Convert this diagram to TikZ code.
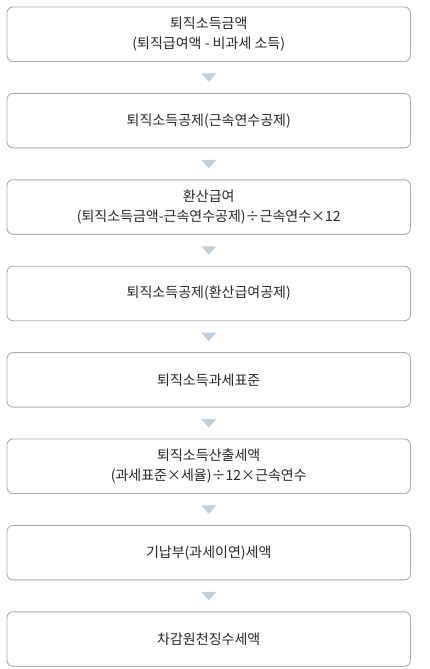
\documentclass[tikz,border=0pt]{standalone}
\usepackage{fontspec}
\setmainfont{Noto Sans CJK KR}
\usepackage{tikz}
\usetikzlibrary{positioning, calc}
\definecolor{marco}{RGB}{172, 172, 172}
\definecolor{letra}{RGB}{40, 40, 40}
\definecolor{flecha}{RGB}{192, 207, 219}
\tikzset{
    paso/.style={draw=marco, rounded corners=6pt, fill=white, text=letra, line width=0.9pt,
                 minimum width=403.5pt, minimum height=54.5pt, align=center,
                 font=\fontsize{14}{20}\selectfont, inner sep=0pt},
    flechita/.style={fill=flecha, draw=none},
}

\begin{document}
\begin{tikzpicture}[node distance=31pt]
    \useasboundingbox (0,0) rectangle (430pt,-669pt);

    \node [paso] (p1) at (208.75pt,-34.25pt) {퇴직소득금액\\(퇴직급여액 - 비과세 소득)};
    \node [paso, below=of p1] (p2) {퇴직소득공제(근속연수공제)};
    \node [paso, below=of p2] (p3) {환산급여\\(퇴직소득금액-근속연수공제)÷근속연수×12};
    \node [paso, below=of p3] (p4) {퇴직소득공제(환산급여공제)};
    \node [paso, below=of p4] (p5) {퇴직소득과세표준};
    \node [paso, below=of p5] (p6) {퇴직소득산출세액\\(과세표준×세율)÷12×근속연수};
    \node [paso, below=of p6] (p7) {기납부(과세이연)세액};
    \node [paso, below=of p7] (p8) {차감원천징수세액};

    % triangulitos entre cajas
    \foreach \a/\b in {p1/p2, p2/p3, p3/p4, p4/p5, p5/p6, p6/p7, p7/p8} {
        \coordinate (m\a) at ($(\a.south)!0.5!(\b.north)$);
        \fill[flechita] ($(m\a)+(-7.5pt,4pt)$) -- ($(m\a)+(7.5pt,4pt)$) -- ($(m\a)+(0pt,-4.5pt)$) -- cycle;
    }
\end{tikzpicture}
\end{document}
